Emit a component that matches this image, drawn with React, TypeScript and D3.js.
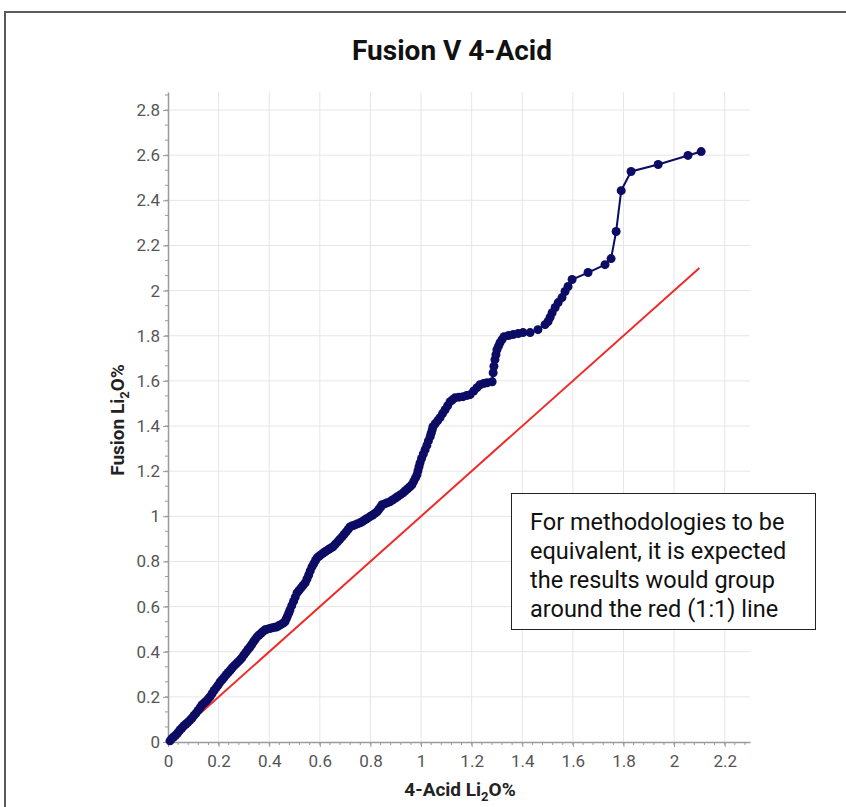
import React, { useEffect, useRef } from 'react';
import * as d3 from 'd3';

// 4-Acid Li2O% (x) against Fusion Li2O% (y), sorted pairs
const fourAcid = [
  0.008, 0.015, 0.022, 0.030, 0.038, 0.047, 0.055, 0.063, 0.071, 0.079, 0.087, 0.095, 0.103, 0.111, 0.119, 0.127,
  0.134, 0.142, 0.150, 0.158, 0.166, 0.174, 0.182, 0.190, 0.198, 0.206, 0.214, 0.222, 0.230, 0.238, 0.246, 0.253,
  0.261, 0.269, 0.277, 0.285, 0.292, 0.300, 0.308, 0.316, 0.324, 0.331, 0.338, 0.345, 0.352, 0.360, 0.368, 0.376,
  0.383, 0.392, 0.402, 0.412, 0.422, 0.431, 0.439, 0.447, 0.455, 0.462, 0.467, 0.472, 0.477, 0.482, 0.489, 0.496,
  0.503, 0.510, 0.518, 0.526, 0.534, 0.542, 0.549, 0.556, 0.562, 0.569, 0.576, 0.583, 0.589, 0.597, 0.605, 0.613,
  0.621, 0.629, 0.637, 0.645, 0.652, 0.661, 0.670, 0.679, 0.688, 0.696, 0.704, 0.712, 0.719, 0.729, 0.739, 0.749,
  0.759, 0.767, 0.775, 0.783, 0.791, 0.800, 0.809, 0.818, 0.826, 0.833, 0.840, 0.846, 0.856, 0.866, 0.877, 0.887,
  0.898, 0.908, 0.919, 0.929, 0.938, 0.947, 0.956, 0.964, 0.971, 0.978, 0.984, 0.988, 0.992, 0.996, 1.002, 1.009,
  1.016, 1.023, 1.029, 1.036, 1.040, 1.044, 1.047, 1.056, 1.066, 1.075, 1.085, 1.095, 1.105, 1.115, 1.124, 1.134,
  1.150, 1.166, 1.180, 1.194, 1.208, 1.221, 1.233, 1.247, 1.261, 1.281, 1.285, 1.288, 1.292, 1.296, 1.300, 1.306,
  1.312, 1.320, 1.328, 1.346, 1.364, 1.384, 1.403, 1.431, 1.462, 1.490, 1.502, 1.510, 1.518, 1.530, 1.542, 1.557,
  1.569, 1.581, 1.597, 1.660, 1.727, 1.751, 1.771, 1.791, 1.830, 1.937, 2.055, 2.107,
];
const fusion = [
  0.005, 0.015, 0.022, 0.030, 0.040, 0.053, 0.062, 0.072, 0.080, 0.088, 0.097, 0.106, 0.118, 0.128, 0.140, 0.152,
  0.164, 0.172, 0.180, 0.190, 0.200, 0.214, 0.228, 0.240, 0.252, 0.266, 0.276, 0.287, 0.298, 0.308, 0.318, 0.328,
  0.337, 0.346, 0.355, 0.364, 0.373, 0.386, 0.398, 0.410, 0.421, 0.432, 0.444, 0.455, 0.466, 0.474, 0.482, 0.490,
  0.497, 0.500, 0.503, 0.506, 0.508, 0.510, 0.516, 0.521, 0.527, 0.532, 0.545, 0.558, 0.571, 0.585, 0.604, 0.623,
  0.642, 0.661, 0.672, 0.683, 0.694, 0.705, 0.722, 0.740, 0.758, 0.776, 0.790, 0.804, 0.816, 0.823, 0.830, 0.837,
  0.843, 0.849, 0.855, 0.860, 0.865, 0.876, 0.887, 0.898, 0.909, 0.920, 0.931, 0.942, 0.953, 0.958, 0.962, 0.967,
  0.971, 0.976, 0.982, 0.988, 0.993, 1.000, 1.006, 1.013, 1.020, 1.030, 1.041, 1.051, 1.055, 1.060, 1.064, 1.072,
  1.080, 1.088, 1.096, 1.104, 1.113, 1.122, 1.131, 1.140, 1.155, 1.170, 1.184, 1.202, 1.220, 1.237, 1.256, 1.276,
  1.295, 1.314, 1.334, 1.353, 1.368, 1.383, 1.397, 1.410, 1.424, 1.437, 1.455, 1.472, 1.490, 1.508, 1.516, 1.525,
  1.528, 1.530, 1.535, 1.539, 1.555, 1.570, 1.583, 1.588, 1.592, 1.596, 1.636, 1.665, 1.694, 1.716, 1.738, 1.754,
  1.769, 1.783, 1.796, 1.801, 1.805, 1.810, 1.814, 1.814, 1.827, 1.849, 1.863, 1.882, 1.902, 1.925, 1.947, 1.969,
  1.996, 2.018, 2.049, 2.080, 2.115, 2.142, 2.262, 2.443, 2.528, 2.559, 2.599, 2.616,
];

// 1:1 reference line end points
const parityLine = [0.13, 2.1];

const xTicks = [0, 0.2, 0.4, 0.6, 0.8, 1, 1.2, 1.4, 1.6, 1.8, 2, 2.2];
const yTicks = [0, 0.2, 0.4, 0.6, 0.8, 1, 1.2, 1.4, 1.6, 1.8, 2, 2.2, 2.4, 2.6, 2.8];

const noteLines = [
  'For methodologies to be',
  'equivalent, it is expected',
  'the results would group',
  'around the red (1:1) line',
];

const W = 846;
const H = 807;
const FONT = 'Roboto, "Noto Sans", sans-serif';

const App = () => {
  const svgRef = useRef<SVGSVGElement>(null);

  useEffect(() => {
    if (!svgRef.current) return;
    const svg = d3.select(svgRef.current);
    svg.selectAll('*').remove();

    const margin = { top: 92, right: 96, bottom: 65, left: 168 };
    const width = W - margin.left - margin.right;
    const height = H - margin.top - margin.bottom;

    const x = d3.scaleLinear().domain([0, 2.3]).range([0, width]);
    const y = d3.scaleLinear().domain([0, 2.88]).range([height, 0]);

    // outer frame (top + left edges visible)
    svg.append('path')
      .attr('d', `M5,${H} L5,12 L${W},12`)
      .attr('fill', 'none')
      .attr('stroke', '#5a5a5a')
      .attr('stroke-width', 2);

    svg.append('text')
      .attr('x', 452)
      .attr('y', 60)
      .attr('text-anchor', 'middle')
      .style('font-family', FONT)
      .style('font-weight', 700)
      .style('font-size', '28px')
      .attr('fill', '#111')
      .text('Fusion V 4-Acid');

    const g = svg.append('g').attr('transform', `translate(${margin.left},${margin.top})`);

    // grid
    g.append('g')
      .selectAll('line')
      .data(xTicks.slice(1))
      .enter()
      .append('line')
      .attr('x1', d => x(d)).attr('x2', d => x(d))
      .attr('y1', 0).attr('y2', height)
      .attr('stroke', '#e6e6e6');
    g.append('g')
      .selectAll('line')
      .data(yTicks.slice(1))
      .enter()
      .append('line')
      .attr('x1', 0).attr('x2', width)
      .attr('y1', d => y(d)).attr('y2', d => y(d))
      .attr('stroke', '#e6e6e6');

    // minor ticks
    const xMinor = d3.range(0, 2.3, 0.04);
    const yMinor = d3.range(0, 2.88, 0.2 / 3);
    g.append('g')
      .selectAll('line')
      .data(xMinor)
      .enter()
      .append('line')
      .attr('x1', d => x(d)).attr('x2', d => x(d))
      .attr('y1', height).attr('y2', height + 3)
      .attr('stroke', '#999');
    g.append('g')
      .selectAll('line')
      .data(yMinor)
      .enter()
      .append('line')
      .attr('x1', -3).attr('x2', 0)
      .attr('y1', d => y(d)).attr('y2', d => y(d))
      .attr('stroke', '#999');

    // axes
    const xAxis = g.append('g')
      .attr('transform', `translate(0,${height})`)
      .call(d3.axisBottom(x).tickValues(xTicks).tickFormat(d3.format('~g')).tickSize(5).tickSizeOuter(0));
    const yAxis = g.append('g')
      .call(d3.axisLeft(y).tickValues(yTicks).tickFormat(d3.format('~g')).tickSize(5).tickSizeOuter(0));
    [xAxis, yAxis].forEach(ax => {
      ax.select('.domain').attr('stroke', '#9a9a9a').attr('stroke-width', 1.5);
      ax.selectAll('.tick line').attr('stroke', '#9a9a9a');
      ax.selectAll('.tick text')
        .attr('fill', '#555')
        .style('font-family', FONT)
        .style('font-size', '17px');
    });
    xAxis.selectAll('.tick text').attr('dy', '1.0em');
    yAxis.selectAll('.tick text').attr('x', -8);

    // axis titles
    const xt = svg.append('text')
      .attr('x', 460)
      .attr('y', 796)
      .attr('text-anchor', 'middle')
      .style('font-family', FONT)
      .style('font-weight', 700)
      .style('font-size', '19px')
      .attr('fill', '#222');
    xt.append('tspan').text('4-Acid Li');
    xt.append('tspan').attr('dy', 5).style('font-size', '13px').text('2');
    xt.append('tspan').attr('dy', -5).text('O%');

    const yt = svg.append('text')
      .attr('transform', 'translate(124,420) rotate(-90)')
      .attr('text-anchor', 'middle')
      .style('font-family', FONT)
      .style('font-weight', 700)
      .style('font-size', '19px')
      .attr('fill', '#222');
    yt.append('tspan').text('Fusion Li');
    yt.append('tspan').attr('dy', 5).style('font-size', '13px').text('2');
    yt.append('tspan').attr('dy', -5).text('O%');

    // 1:1 line
    g.append('line')
      .attr('x1', x(parityLine[0])).attr('y1', y(parityLine[0]))
      .attr('x2', x(parityLine[1])).attr('y2', y(parityLine[1]))
      .attr('stroke', '#ee2b2b')
      .attr('stroke-width', 2);

    // data series
    const pts = fourAcid.map((v, i) => [v, fusion[i]] as [number, number]);
    g.append('path')
      .datum(pts)
      .attr('fill', 'none')
      .attr('stroke', '#0c0c64')
      .attr('stroke-width', 2)
      .attr('d', d3.line<[number, number]>().x(d => x(d[0])).y(d => y(d[1])));
    g.append('g')
      .selectAll('circle')
      .data(pts)
      .enter()
      .append('circle')
      .attr('cx', d => x(d[0]))
      .attr('cy', d => y(d[1]))
      .attr('r', 4.5)
      .attr('fill', '#0c0c64');

    // annotation
    svg.append('rect')
      .attr('x', 511.5).attr('y', 493.5)
      .attr('width', 304).attr('height', 136)
      .attr('fill', '#fff')
      .attr('stroke', '#222')
      .attr('stroke-width', 1);
    svg.append('g')
      .selectAll('text')
      .data(noteLines)
      .enter()
      .append('text')
      .attr('x', 530)
      .attr('y', (d, i) => 530 + i * 29)
      .style('font-family', FONT)
      .style('font-size', '23.5px')
      .attr('fill', '#111')
      .text(d => d);
  }, []);

  return (
    <svg
      ref={svgRef}
      width={W}
      height={H}
      style={{ position: 'absolute', left: 0, top: 0, background: '#fff' }}
    />
  );
};

export default App;
